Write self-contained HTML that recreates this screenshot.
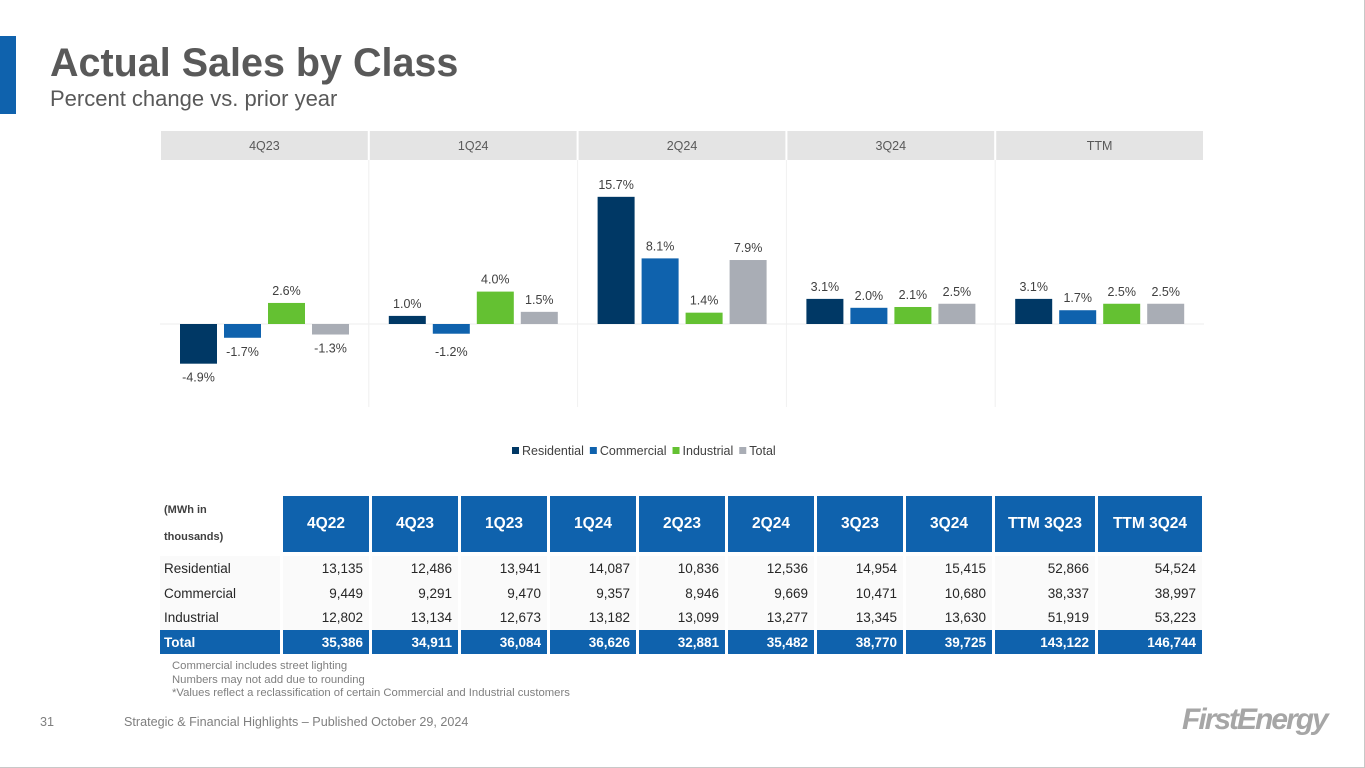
<!DOCTYPE html>
<html><head><meta charset="utf-8"><style>
*{margin:0;padding:0;box-sizing:border-box}
body{width:1365px;height:768px;background:#fff;font-family:"Liberation Sans",Arial,sans-serif;position:relative;overflow:hidden}
.frame{position:absolute;left:0;top:0;width:1365px;height:768px;border:1px solid #c8c8c8;border-top:none;border-left:none}
.accent{position:absolute;left:0;top:36px;width:16px;height:78px;background:#0f62ad}
h1{position:absolute;left:50px;top:41px;font-size:39.5px;font-weight:bold;color:#595959}
.sub{position:absolute;left:50px;top:86px;font-size:22px;color:#595959}
table{position:absolute;left:160px;top:496px;border-collapse:separate;border-spacing:3px 0;margin-left:-3px;font-size:13.5px;font-family:"Liberation Sans Narrow","Liberation Sans",sans-serif}
td,th{padding:0 6px}
th{background:#0f62ad;color:#fff;height:60px;font-size:15.5px;border-bottom:4px solid #fff}
th.lbl{background:#fff;color:#404040;font-size:11px;text-align:left;line-height:27px;vertical-align:middle;padding-left:4px}
td{height:24.7px;text-align:right;color:#262626;background:#fafafa}
td.rl{text-align:left;padding-left:4px}
tr.tot td{background:#0f62ad;color:#fff;font-weight:bold;height:24px}
.notes{position:absolute;left:172px;top:660px;font-size:11.3px;color:#7f7f7f;line-height:13.5px}
.foot{position:absolute;top:715px;font-size:12.6px;color:#7f7f7f}
.logo{position:absolute;left:1182px;top:703px;font-size:30px;font-weight:bold;font-style:italic;color:#a6a6a6;letter-spacing:-2px}
</style></head><body>
<div class="frame"></div>
<div class="accent"></div>
<h1>Actual Sales by Class</h1>
<div class="sub">Percent change vs. prior year</div>
<svg id="chart" width="1365" height="470" style="position:absolute;left:0;top:0"></svg>
<table>
<tr><th class="lbl" style="width:120px">(MWh in<br>thousands)</th><th style="width:86px">4Q22</th><th style="width:86px">4Q23</th><th style="width:86px">1Q23</th><th style="width:86px">1Q24</th><th style="width:86px">2Q23</th><th style="width:86px">2Q24</th><th style="width:86px">3Q23</th><th style="width:86px">3Q24</th><th style="width:100px">TTM 3Q23</th><th style="width:104px">TTM 3Q24</th></tr>
<tr><td class="rl">Residential</td><td>13,135</td><td>12,486</td><td>13,941</td><td>14,087</td><td>10,836</td><td>12,536</td><td>14,954</td><td>15,415</td><td>52,866</td><td>54,524</td></tr>
<tr><td class="rl">Commercial</td><td>9,449</td><td>9,291</td><td>9,470</td><td>9,357</td><td>8,946</td><td>9,669</td><td>10,471</td><td>10,680</td><td>38,337</td><td>38,997</td></tr>
<tr><td class="rl">Industrial</td><td>12,802</td><td>13,134</td><td>12,673</td><td>13,182</td><td>13,099</td><td>13,277</td><td>13,345</td><td>13,630</td><td>51,919</td><td>53,223</td></tr>
<tr class="tot"><td class="rl">Total</td><td>35,386</td><td>34,911</td><td>36,084</td><td>36,626</td><td>32,881</td><td>35,482</td><td>38,770</td><td>39,725</td><td>143,122</td><td>146,744</td></tr>
</table>
<div class="notes">Commercial includes street lighting<br>Numbers may not add due to rounding<br>*Values reflect a reclassification of certain Commercial and Industrial customers</div>
<div class="foot" style="left:40px">31</div>
<div class="foot" style="left:124px">Strategic &amp; Financial Highlights – Published October 29, 2024</div>
<div class="logo">FirstEnergy</div>
<script>
const periods=["4Q23","1Q24","2Q24","3Q24","TTM"];
const seriesNames=["Residential","Commercial","Industrial","Total"];
const residential=[-4.9,1.0,15.7,3.1,3.1];
const commercial=[-1.7,-1.2,8.1,2.0,1.7];
const industrial=[2.6,4.0,1.4,2.1,2.5];
const total=[-1.3,1.5,7.9,2.5,2.5];
const series=[residential,commercial,industrial,total];
const colors=["#003865","#0f62ad","#64c132","#a9adb5"];
const NS="http://www.w3.org/2000/svg";
const svg=document.getElementById('chart');
const left=160,right=1204,pw=(right-left)/periods.length,zeroY=324,scale=8.1;
const y=v=>zeroY-v*scale;
function mk(t,a,txt){const e=document.createElementNS(NS,t);for(const k in a)e.setAttribute(k,a[k]);if(txt!=null)e.textContent=txt;svg.appendChild(e);return e;}
periods.forEach((p,i)=>{
 const x0=left+i*pw;
 let r=mk('rect',{x:x0+1,y:131,width:pw-2,height:29,fill:'#e4e4e4'});
 
 
 let t=mk('text',{x:x0+pw/2,y:150,'text-anchor':'middle','font-size':12.5,fill:'#595959','font-family':'Liberation Sans'},p);
 
 
 if(i>0){let l=mk('line',{x1:x0,x2:x0,y1:160,y2:407,stroke:'#f0f0f0'});}
 let z=mk('line',{x1:x0,x2:x0+pw,y1:zeroY,y2:zeroY,stroke:'#eeeeee'});
 
 
 series.forEach((s,j)=>{
  const v=s[i],bx=x0+20+j*44,bw=37;
  const top=Math.min(y(v),zeroY),h=Math.abs(y(v)-zeroY);
  let b=mk('rect',{x:bx,y:top,width:bw,height:Math.max(h,1),fill:colors[j]});
  
  
  let lab=mk('text',{x:bx+bw/2,y:v>=0?y(v)-8:(y(v)+18>zeroY+28?y(v)+18:zeroY+32),'text-anchor':'middle','font-size':12.5,fill:'#404040','font-family':'Liberation Sans'},v.toFixed(1)+'%');
  
  
 });
});
let lx=512;
seriesNames.forEach((n,j)=>{
 let sq=mk('rect',{x:lx,y:447,width:7,height:7,fill:colors[j]});
 
 
 let t=mk('text',{x:lx+10,y:455,'font-size':12.5,fill:'#404040','font-family':'Liberation Sans'},n);
 
 
 lx+=10+t.getComputedTextLength()+6;
});
</script>
</body></html>
